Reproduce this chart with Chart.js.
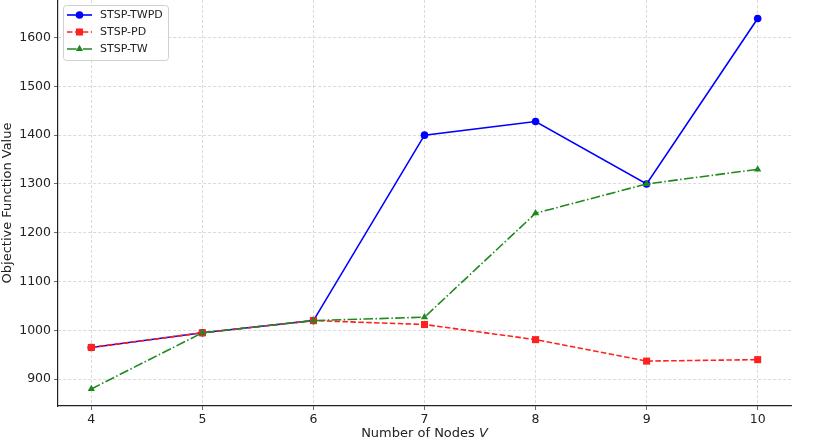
<!DOCTYPE html>
<html>
<head>
<meta charset="utf-8">
<script src="https://cdn.jsdelivr.net/npm/chart.js@4/dist/chart.umd.min.js"></script>
<style>
html,body{margin:0;padding:0;background:#fff;}
#wrap{width:827px;height:444px;position:relative;}
</style>
</head>
<body>
<div id="wrap"><canvas id="c" width="827" height="444"></canvas></div>
<script>
const nodes = [4, 5, 6, 7, 8, 9, 10];
const twpdValues = [965, 995, 1020, 1400, 1428, 1300, 1639];
const pdValues = [965, 995, 1020, 1012, 981, 937, 940];
const twValues = [880, 995, 1020, 1027, 1240, 1300, 1330];
const yTickValues = [900, 1000, 1100, 1200, 1300, 1400, 1500, 1600];
const xTickValues = [4, 5, 6, 7, 8, 9, 10];
const seriesNames = ['STSP-TWPD', 'STSP-PD', 'STSP-TW'];

const FONT = '"DejaVu Sans", sans-serif';
const toPts = arr => nodes.map((n, i) => ({x: n, y: arr[i]}));

const styles = [
  {color: '#0000ff', dash: [], point: 'circle', r: 3.8, order: 2},
  {color: '#ff2020', dash: [5.5, 2.4], point: 'rect', r: 5, order: 1},
  {color: '#1f881f', dash: [9.6, 2.4, 1.5, 2.4], point: 'triangle', r: 4.2, order: 0}
];
const valuesList = [twpdValues, pdValues, twValues];

const datasets = valuesList.map((vals, i) => ({
  label: seriesNames[i],
  data: toPts(vals),
  borderColor: styles[i].color,
  backgroundColor: styles[i].color,
  borderWidth: 1.6,
  borderDash: styles[i].dash,
  pointStyle: styles[i].point,
  pointRadius: styles[i].r,
  pointBorderWidth: 0,
  pointBackgroundColor: styles[i].color,
  tension: 0,
  clip: false,
  order: styles[i].order
}));

const customDraw = {
  id: 'customDraw',
  afterDraw(chart) {
    const ctx = chart.ctx;
    ctx.save();
    const cx = (chart.chartArea.left + chart.chartArea.right) / 2;
    const y = 434;
    ctx.fillStyle = '#222';
    ctx.textBaseline = 'middle';
    ctx.font = '13px ' + FONT;
    const t1 = 'Number of Nodes ';
    const w1 = ctx.measureText(t1).width;
    ctx.font = 'italic 13px ' + FONT;
    const w2 = ctx.measureText('V').width;
    const x0 = cx - (w1 + w2) / 2;
    ctx.textAlign = 'left';
    ctx.font = '13px ' + FONT;
    ctx.fillText(t1, x0, y);
    ctx.font = 'italic 13px ' + FONT;
    ctx.fillText('V', x0 + w1, y);

    const bx = 63.5, by = 5.5, bw = 105, bh = 55;
    ctx.fillStyle = 'rgba(255,255,255,0.85)';
    ctx.strokeStyle = '#d0d0d0';
    ctx.lineWidth = 1;
    ctx.beginPath();
    ctx.roundRect(bx, by, bw, bh, 3);
    ctx.fill();
    ctx.stroke();
    const rows = [15, 32, 49];
    seriesNames.forEach((name, i) => {
      const st = styles[i];
      const ry = rows[i];
      ctx.strokeStyle = st.color;
      ctx.lineWidth = 1.6;
      ctx.setLineDash(st.dash);
      ctx.beginPath();
      ctx.moveTo(67, ry);
      ctx.lineTo(92, ry);
      ctx.stroke();
      ctx.setLineDash([]);
      ctx.fillStyle = st.color;
      Chart.helpers.drawPoint(ctx, {pointStyle: st.point, rotation: 0, borderWidth: 0, radius: st.r}, 79.5, ry);
      ctx.fillStyle = '#222';
      ctx.textAlign = 'left';
      ctx.textBaseline = 'middle';
      ctx.font = '11px ' + FONT;
      ctx.fillText(name, 100, ry + 0.5);
    });
    ctx.restore();
  }
};

new Chart(document.getElementById('c'), {
  type: 'line',
  data: {datasets},
  plugins: [customDraw],
  options: {
    responsive: false,
    animation: false,
    devicePixelRatio: 1,
    layout: {autoPadding: false, padding: {top: 0, right: 36, bottom: 0, left: 0}},
    plugins: {legend: {display: false}, tooltip: {enabled: false}},
    scales: {
      x: {
        type: 'linear',
        min: 3.7,
        max: 10.3,
        afterBuildTicks: s => { s.ticks = xTickValues.map(v => ({value: v})); },
        afterFit: s => { s.height = 38; },
        grid: {color: '#d0d0d0', lineWidth: 0.8, tickLength: 4, tickColor: '#444', tickBorderDash: []},
        border: {display: true, color: '#222', width: 1.2, dash: [3, 2]},
        ticks: {color: '#222', font: {family: FONT, size: 12.5}, padding: 2, maxRotation: 0, callback: v => String(v)}
      },
      y: {
        type: 'linear',
        min: 845,
        max: 1677,
        afterBuildTicks: s => { s.ticks = yTickValues.map(v => ({value: v})); },
        afterFit: s => { s.width = 58; s.paddingTop = 0; s.paddingBottom = 0; },
        grid: {color: '#d0d0d0', lineWidth: 0.8, tickLength: 4, tickColor: '#444', tickBorderDash: []},
        border: {display: true, color: '#222', width: 1.2, dash: [3, 2]},
        ticks: {color: '#222', font: {family: FONT, size: 12.5}, padding: 3, callback: v => String(v)},
        title: {display: true, text: 'Objective Function Value', color: '#222', font: {family: FONT, size: 13}, padding: {top: 0, bottom: 2}}
      }
    }
  }
});
</script>
</body>
</html>
